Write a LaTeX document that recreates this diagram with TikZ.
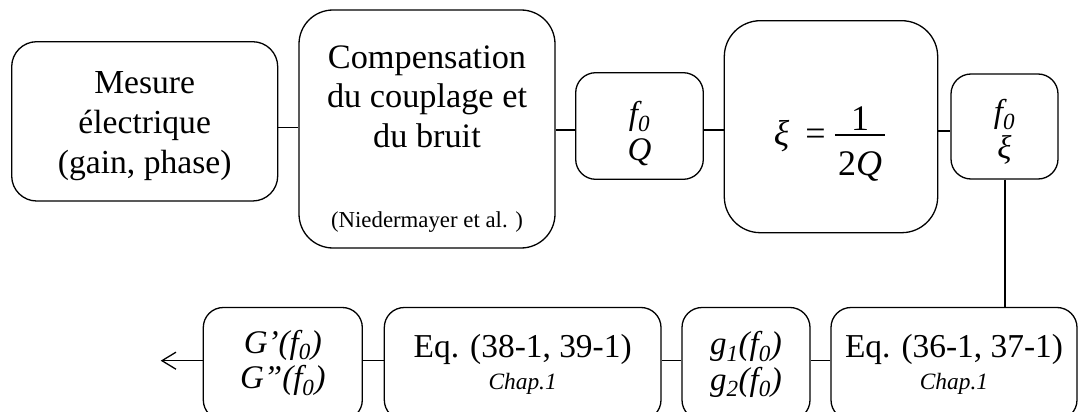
\documentclass[tikz,border=0pt]{standalone}
\usepackage{fontspec}
\setmainfont{Liberation Serif}
\usetikzlibrary{arrows.meta}
\newcommand{\mysb}[1]{\textsubscript{#1}}
\begin{document}
\begin{tikzpicture}[x=1pt,y=-1pt,
  box/.style={draw, line width=1.3pt, inner sep=0pt},
  conn/.style={line width=1.3pt},
  txt/.style={inner sep=0pt, anchor=base, align=center},
  mathtxt/.style={txt, font=\fontsize{33}{35.5}\selectfont\itshape},
  eqtxt/.style={txt, font=\fontsize{33.4}{36}\selectfont},
  chaptxt/.style={txt, font=\fontsize{23.4}{26}\selectfont\itshape},
  fractxt/.style={txt, font=\fontsize{36}{40}\selectfont}]
\useasboundingbox (0,0) rectangle (1080,412);
\clip (0,0) rectangle (1080,412);
% top row
\node[box, rounded corners=25pt, minimum width=266pt, minimum height=159.3pt] (mes) at (144.7,121.35) {};
\node[txt, font=\fontsize{33.6}{40}\selectfont] (mestxt) at (144.7,173) {Mesure\\électrique\\(gain, phase)};
\node[box, rounded corners=34pt, minimum width=256pt, minimum height=238pt] (comp) at (427,129) {};
\node[txt, font=\fontsize{34.3}{39.5}\selectfont] (comptxt) at (427,147) {Compensation\\du couplage et\\du bruit};
\node[txt, font=\fontsize{22.8}{26}\selectfont] (nied) at (427,227) {(Niedermayer et al. )};
\node[box, rounded corners=20pt, minimum width=127.6pt, minimum height=106.6pt] (fq) at (639.5,126) {};
\node[mathtxt] (fqtxt) at (639.5,160) {f\mysb{0}\\Q};
\node[box, rounded corners=36pt, minimum width=213.4pt, minimum height=212pt] (xi) at (831,126.7) {};
\node[fractxt, font=\fontsize{36}{40}\selectfont\itshape] (xisym) at (781.5,145) {ξ};
\node[fractxt] (xieq) at (815.5,145) {=};
\node[fractxt] (xinum) at (860,130) {1};
\node[fractxt] (xiden) at (860,175) {2\textit{Q}};
\draw[line width=1.6pt] ([xshift=-3pt]xiden.north west |- 0,135) coordinate (barl) -- ([xshift=3pt]xiden.north east |- 0,135) coordinate (barr);
\node[box, rounded corners=20pt, minimum width=107pt, minimum height=105pt] (fx) at (1004.5,126.5) {};
\node[mathtxt] (fxtxt) at (1004.5,158) {f\mysb{0}\\ξ};
% bottom row
\node[box, rounded corners=20pt, minimum width=159pt, minimum height=112.5pt] (G) at (282.8,363.75) {};
\node[mathtxt] (Gtxt) at (282.8,388.5) {G’(f\mysb{0})\\G”(f\mysb{0})};
\node[box, rounded corners=20pt, minimum width=276.7pt, minimum height=112.5pt] (eqa) at (522.65,363.75) {};
\node[eqtxt] (eqatxt) at (522.65,357) {Eq. (38-1, 39-1)};
\node[chaptxt] (chapa) at (522.65,389) {Chap.1};
\node[box, rounded corners=20pt, minimum width=128pt, minimum height=112.5pt] (g) at (746,363.75) {};
\node[mathtxt] (gtxt) at (746,390) {g\mysb{1}(f\mysb{0})\\g\mysb{2}(f\mysb{0})};
\node[box, rounded corners=20pt, minimum width=246pt, minimum height=112.5pt] (eqb) at (954,363.75) {};
\node[eqtxt] (eqbtxt) at (954,357) {Eq. (36-1, 37-1)};
\node[chaptxt] (chapb) at (954,389) {Chap.1};
% connectors
\draw[conn] (mes.east |- 0,127.7) -- (comp.west |- 0,127.7);
\draw[conn] (comp.east |- 0,130) -- (fq.west |- 0,130);
\draw[conn] (fq.east |- 0,130) -- (xi.west |- 0,130);
\draw[conn] (xi.east |- 0,131) -- (fx.west |- 0,131);
\draw[line width=2pt] (fx.south) -- (fx.south |- eqb.north);
\draw[conn] (eqb.west |- 0,360.7) -- (g.east |- 0,360.7);
\draw[conn] (g.west |- 0,360.7) -- (eqa.east |- 0,360.7);
\draw[conn] (eqa.west |- 0,360.7) -- (G.east |- 0,360.7);
\coordinate (out) at (160.7,360.7);
\draw[conn, -{Straight Barb[length=14pt,width=17pt,line width=1.3pt]}] (G.west |- out) -- (out);
\end{tikzpicture}
\end{document}
